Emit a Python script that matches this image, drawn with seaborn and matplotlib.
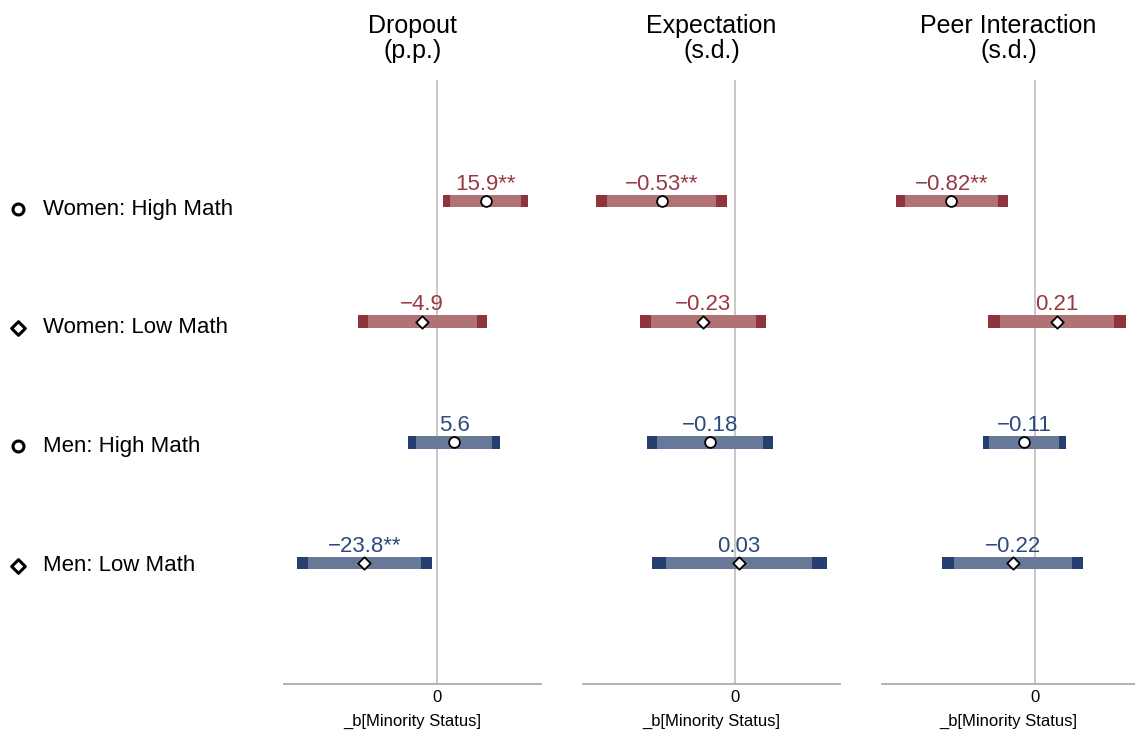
import numpy as np
import pandas as pd
import matplotlib
matplotlib.use("Agg")
import matplotlib.pyplot as plt
import matplotlib.transforms as mtransforms
import seaborn as sns

# Row categories (top to bottom)
rows = ["Women: High Math", "Women: Low Math", "Men: High Math", "Men: Low Math"]
genders = ["Women", "Women", "Men", "Men"]
math_levels = ["High Math", "Low Math", "High Math", "Low Math"]

# Outcome panels
panel_titles = ["Dropout\n(p.p.)", "Expectation\n(s.d.)", "Peer Interaction\n(s.d.)"]
panel_decimals = [1, 2, 2]

# Dropout (percentage points)
dropout_coef = [15.9, -4.9, 5.6, -23.8]
dropout_lo95 = [2.1, -26.0, -9.4, -45.8]
dropout_hi95 = [29.7, 16.3, 20.7, -1.7]
dropout_lo90 = [4.3, -22.5, -6.9, -42.3]
dropout_hi90 = [27.5, 13.0, 18.1, -5.3]
dropout_stars = ["**", "", "", "**"]

# Expectation (standard deviations)
expect_coef = [-0.53, -0.23, -0.18, 0.03]
expect_lo95 = [-1.00, -0.685, -0.637, -0.60]
expect_hi95 = [-0.06, 0.221, 0.276, 0.661]
expect_lo90 = [-0.925, -0.608, -0.56, -0.497]
expect_hi90 = [-0.137, 0.149, 0.204, 0.557]
expect_stars = ["**", "", "", ""]

# Peer interaction (standard deviations)
peer_coef = [-0.82, 0.21, -0.11, -0.22]
peer_lo95 = [-1.364, -0.46, -0.515, -0.909]
peer_hi95 = [-0.271, 0.88, 0.295, 0.46]
peer_lo90 = [-1.273, -0.346, -0.45, -0.795]
peer_hi90 = [-0.363, 0.769, 0.229, 0.353]
peer_stars = ["**", "", "", ""]

panel_xlims = [(-50.2, 34.0), (-1.094, 0.757), (-1.495, 0.971)]

panels = [
    (dropout_coef, dropout_lo95, dropout_hi95, dropout_lo90, dropout_hi90, dropout_stars),
    (expect_coef, expect_lo95, expect_hi95, expect_lo90, expect_hi90, expect_stars),
    (peer_coef, peer_lo95, peer_hi95, peer_lo90, peer_hi90, peer_stars),
]

dark = {"Women": "#8F333C", "Men": "#263F70"}
light = {"Women": "#B07275", "Men": "#687899"}
text_col = {"Women": "#963A42", "Men": "#2D4A7D"}
marker_of = {"High Math": "o", "Low Math": "D"}
size_of = {"High Math": 60, "Low Math": 40}

sns.set_theme(style="white")
plt.rcParams["font.family"] = ["Liberation Sans", "DejaVu Sans"]
plt.rcParams["text.color"] = "black"

W, H = 1135, 731
fig = plt.figure(figsize=(W / 100, H / 100), dpi=100)

top_px, bottom_px = 80, 684
lefts = [284, 583.3, 882.3]
widths = [256.7, 256.7, 252.7]

axes = []
for i, (coef, lo95, hi95, lo90, hi90, stars) in enumerate(panels):
    ax = fig.add_axes([lefts[i] / W, 1 - bottom_px / H, widths[i] / W,
                       (bottom_px - top_px) / H])
    axes.append(ax)
    df = pd.DataFrame({
        "row": rows, "gender": genders, "math": math_levels,
        "pos": np.arange(1, len(rows) + 1),
        "coef": coef, "lo95": lo95, "hi95": hi95, "lo90": lo90, "hi90": hi90,
        "stars": stars,
    })

    ax.axvline(0, color="#C4C4C4", lw=1.3, zorder=0)

    for _, r in df.iterrows():
        ax.barh(r["pos"], r["hi95"] - r["lo95"], left=r["lo95"], height=0.102,
                color=dark[r["gender"]], lw=0, zorder=2)
        ax.barh(r["pos"], r["hi90"] - r["lo90"], left=r["lo90"], height=0.102,
                color=light[r["gender"]], lw=0, zorder=3)
        label = f"{r['coef']:.{panel_decimals[i]}f}".replace("-", "\u2212") + r["stars"]
        ax.annotate(label, (r["coef"], r["pos"]), xytext=(0, 8),
                    textcoords="offset points", ha="center", va="baseline",
                    fontsize=16, color=text_col[r["gender"]], zorder=5)

    for level in ["High Math", "Low Math"]:
        sub = df[df["math"] == level]
        sns.scatterplot(data=sub, x="coef", y="pos", ax=ax, marker=marker_of[level],
                        s=size_of[level], color="white", edgecolor="black",
                        linewidth=1.3, zorder=4, legend=False)

    ax.set_xlim(*panel_xlims[i])
    ax.set_ylim(5, 0)
    ax.set_yticks([])
    ax.set_xticks([0])
    ax.set_xticklabels(["0"])
    ax.tick_params(axis="x", length=0, pad=4, labelsize=12, labelcolor="black")
    ax.set_xlabel("_b[Minority Status]", fontsize=12, labelpad=7, color="black")
    ax.set_ylabel("")
    ax.set_title(panel_titles[i], fontsize=18, pad=15.5, linespacing=1.08,
                 color="black")
    for side in ["left", "top", "right"]:
        ax.spines[side].set_visible(False)
    ax.spines["bottom"].set_color("#ABABAB")
    ax.spines["bottom"].set_linewidth(1.3)
    ax.set_facecolor("none")

# Row labels with marker keys on the left
label_y = [1.07, 2.05, 3.03, 4.02]
ax0 = axes[0]
trans = mtransforms.blended_transform_factory(fig.transFigure, ax0.transData)
for ypos, name, level in zip(label_y, rows, math_levels):
    ax0.scatter([18 / W], [ypos], transform=trans, clip_on=False,
                marker=marker_of[level], s=62 if level == "High Math" else 48,
                facecolor="white", edgecolor="black", linewidth=2.2, zorder=6)
    ax0.text(43 / W, ypos, name, transform=trans, ha="left", va="center",
             fontsize=16, color="black")

fig.savefig("out.png", dpi=100)
